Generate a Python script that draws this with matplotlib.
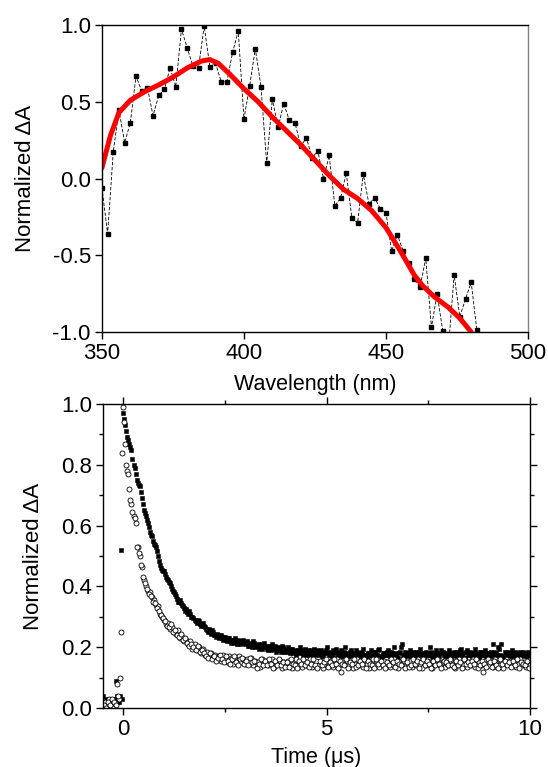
import numpy as np
import matplotlib
matplotlib.use("Agg")
import matplotlib.pyplot as plt
from matplotlib.ticker import MultipleLocator, FormatStrFormatter

plt.rcParams['font.family'] = ['Liberation Sans', 'DejaVu Sans']

# ---------------- top panel: transient spectrum ----------------
wl_start, wl_step = 350, 2
spec_dA = [-0.06, -0.36, 0.175, 0.446, 0.233, 0.364, 0.666, 0.57, 0.592, 0.409,
           0.542, 0.581, 0.722, 0.598, 0.972, 0.852, 0.735, 0.722, 0.993, 0.728,
           0.75, 0.631, 0.629, 0.822, 0.959, 0.388, 0.603, 0.844, 0.598, 0.098,
           0.518, 0.333, 0.487, 0.379, 0.36, 0.212, 0.264, 0.134, 0.181, -0.002,
           0.15, -0.176, -0.13, 0.037, -0.257, -0.29, 0.029, -0.166, -0.125, -0.197,
           -0.223, -0.472, -0.366, -0.47, -0.55, -0.657, -0.705, -0.52, -0.969, -0.752,
           -0.993, -1.1, -0.629, -0.9, -0.785, -0.676, -0.989]

# smoothed fit (red)
smooth_wl = [350, 353, 356, 360, 365, 370, 375, 380, 385, 388, 391, 395, 400, 405,
             410, 415, 420, 425, 430, 435, 440, 445, 450, 455, 460, 463, 467, 472, 476, 480]
smooth_dA = [0.07, 0.28, 0.43, 0.51, 0.565, 0.61, 0.66, 0.72, 0.765, 0.775, 0.75, 0.68,
             0.585, 0.50, 0.40, 0.31, 0.22, 0.12, 0.02, -0.07, -0.13, -0.21, -0.32, -0.47,
             -0.63, -0.70, -0.77, -0.84, -0.91, -1.0]

# ---------------- bottom panel: kinetics ----------------
# two interleaved sample sets (set b is offset by half a step)
t_start, t_step = -0.5, 0.05
kin_sq = [0.04, 0.01, 0.02, 0.00, 0.01, 0.02, 0.03, 0.04, 0.02, 0.52,
          0.97, 0.93, 0.89, 0.87, 0.85, 0.80, 0.77, 0.74, 0.73, 0.69,
          0.65, 0.63, 0.61, 0.58, 0.565, 0.54, 0.53, 0.50, 0.47, 0.455,
          0.45, 0.43, 0.42, 0.41, 0.39, 0.38, 0.37, 0.35, 0.355, 0.34,
          0.33, 0.325, 0.31, 0.31, 0.30, 0.29, 0.28, 0.285, 0.27, 0.28,
          0.265, 0.255, 0.26, 0.245, 0.25, 0.24, 0.245, 0.23, 0.24, 0.225,
          0.235, 0.22, 0.23, 0.215, 0.225, 0.23, 0.21, 0.22, 0.215, 0.225,
          0.21, 0.22, 0.205, 0.215, 0.22, 0.2, 0.21, 0.205, 0.195, 0.215,
          0.2, 0.19, 0.205, 0.21, 0.195, 0.185, 0.2, 0.19, 0.205, 0.185,
          0.19, 0.2, 0.18, 0.195, 0.185, 0.175, 0.19, 0.2, 0.18, 0.185,
          0.175, 0.19, 0.185, 0.17, 0.195, 0.18, 0.175, 0.19, 0.17, 0.185,
          0.2, 0.175, 0.18, 0.19, 0.165, 0.185, 0.175, 0.19, 0.17, 0.2,
          0.18, 0.17, 0.19, 0.175, 0.165, 0.185, 0.18, 0.17, 0.195, 0.175,
          0.165, 0.18, 0.19, 0.17, 0.185, 0.175, 0.195, 0.16, 0.18, 0.175,
          0.19, 0.17, 0.18, 0.2, 0.175, 0.165, 0.185, 0.21, 0.17, 0.18,
          0.175, 0.19, 0.165, 0.18, 0.185, 0.17, 0.195, 0.175, 0.16, 0.185,
          0.18, 0.2, 0.17, 0.175, 0.19, 0.165, 0.18, 0.185, 0.17, 0.175,
          0.19, 0.165, 0.18, 0.175, 0.185, 0.17, 0.195, 0.18, 0.165, 0.19,
          0.175, 0.18, 0.17, 0.195, 0.18, 0.165, 0.185, 0.175, 0.19, 0.17,
          0.18, 0.185, 0.21, 0.17, 0.175, 0.195, 0.21, 0.165, 0.18, 0.185,
          0.17, 0.19, 0.175, 0.18, 0.165, 0.185, 0.175, 0.18, 0.17, 0.185,
          0.175]
kin_sq_b = [0.02, 0.03, 0.00, 0.01, 0.03, 0.01, 0.09, 0.02, 0.04, 0.03,
            0.95, 0.91, 0.88, 0.86, 0.82, 0.79, 0.75, 0.735, 0.71, 0.67,
            0.64, 0.62, 0.595, 0.57, 0.55, 0.535, 0.515, 0.485, 0.46, 0.45,
            0.44, 0.425, 0.415, 0.40, 0.385, 0.375, 0.36, 0.35, 0.345, 0.335,
            0.32, 0.315, 0.32, 0.30, 0.295, 0.285, 0.29, 0.275, 0.275, 0.27,
            0.26, 0.25, 0.25, 0.255, 0.24, 0.235, 0.24, 0.235, 0.23, 0.235,
            0.225, 0.23, 0.22, 0.225, 0.215, 0.22, 0.225, 0.21, 0.22, 0.215,
            0.215, 0.205, 0.21, 0.2, 0.215, 0.205, 0.195, 0.21, 0.2, 0.205,
            0.195, 0.205, 0.19, 0.2, 0.205, 0.19, 0.195, 0.185, 0.2, 0.195,
            0.185, 0.19, 0.195, 0.18, 0.19, 0.185, 0.18, 0.19, 0.175, 0.195,
            0.185, 0.175, 0.19, 0.18, 0.175, 0.19, 0.185, 0.17, 0.18, 0.19,
            0.18, 0.185, 0.17, 0.18, 0.195, 0.175, 0.18, 0.17, 0.185, 0.175,
            0.17, 0.185, 0.175, 0.18, 0.19, 0.17, 0.175, 0.185, 0.175, 0.165,
            0.18, 0.175, 0.17, 0.185, 0.175, 0.19, 0.17, 0.18, 0.175, 0.185,
            0.175, 0.185, 0.17, 0.18, 0.165, 0.18, 0.2, 0.175, 0.185, 0.17,
            0.18, 0.17, 0.185, 0.175, 0.17, 0.185, 0.18, 0.17, 0.18, 0.175,
            0.175, 0.185, 0.165, 0.18, 0.175, 0.17, 0.19, 0.175, 0.18, 0.17,
            0.18, 0.175, 0.185, 0.17, 0.18, 0.19, 0.175, 0.165, 0.185, 0.175,
            0.185, 0.17, 0.18, 0.175, 0.17, 0.185, 0.175, 0.18, 0.17, 0.18,
            0.175, 0.17, 0.185, 0.18, 0.2, 0.175, 0.17, 0.185, 0.175, 0.18,
            0.18, 0.17, 0.185, 0.175, 0.18, 0.17, 0.185, 0.175, 0.17, 0.18]
kin_circ = [0.00, 0.02, 0.01, 0.03, 0.01, 0.00, 0.02, 0.08, 0.03, 0.25,
            0.99, 0.87, 0.78, 0.72, 0.67, 0.63, 0.61, 0.53, 0.50, 0.465,
            0.42, 0.40, 0.385, 0.38, 0.365, 0.355, 0.34, 0.335, 0.31, 0.30,
            0.29, 0.275, 0.28, 0.26, 0.265, 0.25, 0.245, 0.255, 0.23, 0.235,
            0.22, 0.225, 0.21, 0.22, 0.195, 0.21, 0.19, 0.20, 0.18, 0.195,
            0.175, 0.185, 0.17, 0.18, 0.165, 0.175, 0.16, 0.17, 0.155, 0.175,
            0.16, 0.15, 0.17, 0.165, 0.145, 0.16, 0.155, 0.17, 0.15, 0.16,
            0.145, 0.16, 0.15, 0.165, 0.14, 0.155, 0.15, 0.135, 0.16, 0.145,
            0.155, 0.14, 0.15, 0.16, 0.135, 0.15, 0.145, 0.155, 0.13, 0.15,
            0.145, 0.155, 0.14, 0.13, 0.15, 0.16, 0.14, 0.15, 0.135, 0.155,
            0.14, 0.15, 0.16, 0.135, 0.145, 0.155, 0.14, 0.15, 0.13, 0.145,
            0.15, 0.14, 0.155, 0.135, 0.145, 0.16, 0.14, 0.12, 0.15, 0.145,
            0.155, 0.14, 0.15, 0.13, 0.145, 0.16, 0.14, 0.15, 0.135, 0.155,
            0.145, 0.13, 0.15, 0.16, 0.14, 0.15, 0.135, 0.145, 0.155, 0.14,
            0.15, 0.135, 0.145, 0.16, 0.14, 0.13, 0.15, 0.145, 0.155, 0.14,
            0.145, 0.155, 0.135, 0.15, 0.14, 0.16, 0.145, 0.13, 0.15, 0.14,
            0.155, 0.14, 0.13, 0.15, 0.145, 0.16, 0.14, 0.15, 0.135, 0.145,
            0.14, 0.155, 0.145, 0.13, 0.15, 0.16, 0.14, 0.145, 0.155, 0.135,
            0.15, 0.14, 0.16, 0.135, 0.145, 0.15, 0.14, 0.12, 0.155, 0.145,
            0.14, 0.15, 0.135, 0.16, 0.145, 0.14, 0.155, 0.13, 0.15, 0.145,
            0.155, 0.14, 0.15, 0.135, 0.145, 0.16, 0.14, 0.15, 0.135, 0.145,
            0.14]
kin_circ_b = [0.01, 0.00, 0.02, 0.01, 0.03, 0.02, 0.01, 0.04, 0.10, 0.84,
              0.94, 0.80, 0.77, 0.685, 0.645, 0.625, 0.53, 0.51, 0.47, 0.43,
              0.41, 0.39, 0.375, 0.37, 0.35, 0.345, 0.33, 0.32, 0.305, 0.295,
              0.285, 0.27, 0.265, 0.275, 0.25, 0.255, 0.24, 0.235, 0.245, 0.225,
              0.23, 0.215, 0.205, 0.21, 0.2, 0.19, 0.205, 0.185, 0.19, 0.18,
              0.17, 0.165, 0.18, 0.16, 0.17, 0.155, 0.165, 0.175, 0.16, 0.15,
              0.17, 0.155, 0.145, 0.16, 0.17, 0.15, 0.14, 0.16, 0.165, 0.145,
              0.155, 0.14, 0.165, 0.15, 0.155, 0.13, 0.145, 0.16, 0.14, 0.155,
              0.14, 0.16, 0.145, 0.13, 0.155, 0.14, 0.16, 0.14, 0.15, 0.135,
              0.15, 0.135, 0.16, 0.145, 0.14, 0.13, 0.155, 0.145, 0.16, 0.14,
              0.15, 0.135, 0.145, 0.16, 0.14, 0.13, 0.155, 0.14, 0.15, 0.16,
              0.135, 0.15, 0.14, 0.16, 0.145, 0.13, 0.155, 0.145, 0.14, 0.16,
              0.13, 0.15, 0.145, 0.16, 0.135, 0.14, 0.155, 0.145, 0.16, 0.13,
              0.155, 0.145, 0.14, 0.13, 0.16, 0.145, 0.155, 0.14, 0.13, 0.15,
              0.14, 0.16, 0.15, 0.135, 0.155, 0.145, 0.14, 0.16, 0.13, 0.15,
              0.135, 0.14, 0.16, 0.145, 0.155, 0.13, 0.15, 0.16, 0.14, 0.155,
              0.145, 0.13, 0.155, 0.14, 0.16, 0.145, 0.13, 0.155, 0.15, 0.14,
              0.16, 0.14, 0.135, 0.155, 0.14, 0.15, 0.13, 0.16, 0.145, 0.15,
              0.14, 0.155, 0.145, 0.16, 0.13, 0.14, 0.155, 0.145, 0.135, 0.16,
              0.15, 0.135, 0.155, 0.14, 0.13, 0.16, 0.145, 0.155, 0.14, 0.15,
              0.135, 0.155, 0.14, 0.16, 0.13, 0.15, 0.145, 0.14, 0.155, 0.13]

wl = wl_start + wl_step * np.arange(len(spec_dA))
t = t_start + t_step * np.arange(len(kin_sq))
t_b = t_start + t_step / 2 + t_step * np.arange(len(kin_sq_b))

fig = plt.figure(figsize=(5.48, 7.67), dpi=100)
ax1 = fig.add_axes([0.186, 0.5671, 0.7775, 0.4003])
ax2 = fig.add_axes([0.188, 0.0769, 0.779, 0.3964])

TICK_FS = 16
XLAB_FS = 15.5
YLAB_FS = 16

# top
ax1.plot(wl, spec_dA, color='black', lw=0.6, ls=(0, (4, 2)),
         marker='s', ms=2.6, mfc='black', mec='black')
ax1.plot(smooth_wl, smooth_dA, color='red', lw=3.6, solid_capstyle='round')
ax1.set_xlim(350, 500)
ax1.set_ylim(-1.0, 1.0)
ax1.xaxis.set_major_locator(MultipleLocator(50))
ax1.yaxis.set_major_locator(MultipleLocator(0.5))
ax1.yaxis.set_major_formatter(FormatStrFormatter('%.1f'))
ax1.set_xlabel('Wavelength (nm)', fontsize=XLAB_FS, labelpad=7)
ax1.set_ylabel('Normalized \u0394A', fontsize=YLAB_FS, labelpad=12)

# bottom
ax2.plot(t, kin_sq, ls='none', marker='s', ms=3.0, mfc='black', mec='black', mew=0.4)
ax2.plot(t_b, kin_sq_b, ls='none', marker='s', ms=3.0, mfc='black', mec='black', mew=0.4)
ax2.plot(t, kin_circ, ls='none', marker='o', ms=3.6, mfc='white', mec='black', mew=0.6)
ax2.plot(t_b, kin_circ_b, ls='none', marker='o', ms=3.6, mfc='white', mec='black', mew=0.6)
ax2.set_xlim(-0.5, 10)
ax2.set_ylim(0.0, 1.0)
ax2.xaxis.set_major_locator(MultipleLocator(5))
ax2.xaxis.set_minor_locator(MultipleLocator(2.5))
ax2.yaxis.set_major_locator(MultipleLocator(0.2))
ax2.yaxis.set_minor_locator(MultipleLocator(0.1))
ax2.yaxis.set_major_formatter(FormatStrFormatter('%.1f'))
ax2.set_xlabel('Time (\u03bcs)', fontsize=XLAB_FS, labelpad=5)
ax2.set_ylabel('Normalized \u0394A', fontsize=YLAB_FS, labelpad=12)

for ax in (ax1, ax2):
    for sp in ax.spines.values():
        sp.set_linewidth(1.0)
    ax.tick_params(which='both', direction='out', labelsize=TICK_FS, width=1.0, pad=3)
    ax.tick_params(which='major', length=5)
    ax.tick_params(which='minor', length=3)
ax1.spines['right'].set_color('#808080')
ax2.tick_params(which='both', top=True)
ax2.tick_params(which='both', right=True, direction='in', axis='y')
ax2.tick_params(which='both', left=True, direction='out', axis='y')

fig.savefig('out.png', dpi=100)
